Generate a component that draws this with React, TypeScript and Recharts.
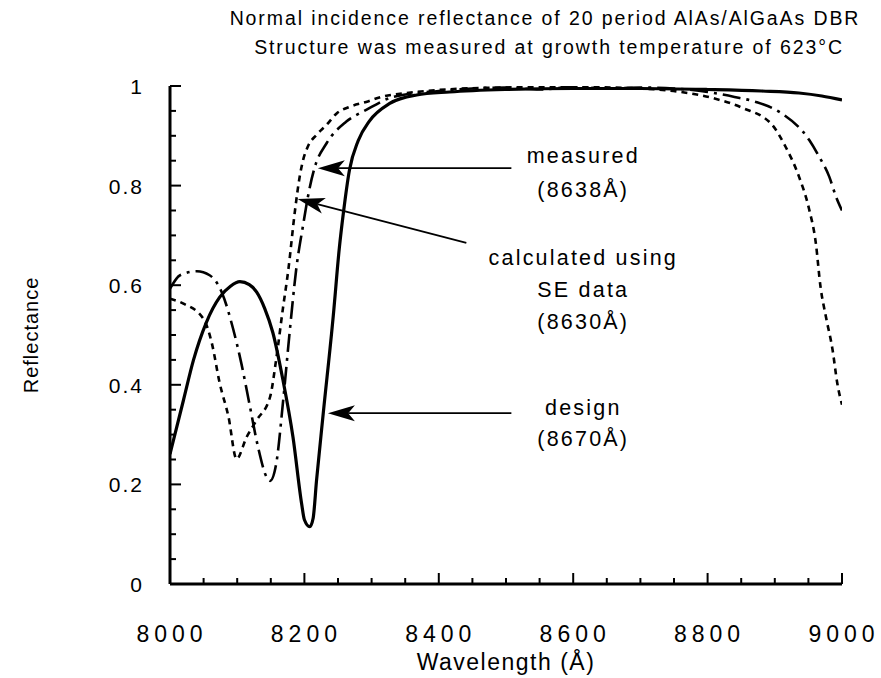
import React from 'react';
import {
  LineChart,
  Line,
  XAxis,
  YAxis,
  ReferenceLine,
  ReferenceDot,
} from 'recharts';

// design curve (solid)
const designWl = [8000, 8020, 8035, 8054, 8074, 8090, 8104, 8118, 8129, 8141, 8153, 8168, 8183, 8196, 8200, 8208, 8213, 8218, 8228, 8243, 8252, 8258, 8267, 8280, 8297, 8327, 8367, 8416, 8500, 8600, 8700, 8800, 8880, 8936, 8970, 9000];
const designR = [0.261, 0.369, 0.45, 0.525, 0.576, 0.598, 0.607, 0.601, 0.586, 0.553, 0.505, 0.41, 0.295, 0.16, 0.129, 0.115, 0.132, 0.207, 0.342, 0.539, 0.675, 0.745, 0.831, 0.89, 0.93, 0.965, 0.982, 0.988, 0.993, 0.995, 0.995, 0.993, 0.99, 0.986, 0.98, 0.972];

// measured curve (dash-dot)
const measuredWl = [8000, 8015, 8040, 8059, 8077, 8094, 8106, 8119, 8131, 8144, 8149, 8158, 8168, 8178, 8188, 8198, 8207, 8215, 8233, 8262, 8292, 8332, 8400, 8450, 8500, 8550, 8600, 8650, 8700, 8750, 8800, 8840, 8872, 8909, 8951, 8966, 8981, 8991, 9000];
const measuredR = [0.593, 0.62, 0.628, 0.62, 0.586, 0.512, 0.444, 0.356, 0.275, 0.214, 0.207, 0.241, 0.363, 0.505, 0.634, 0.72, 0.79, 0.835, 0.885, 0.928, 0.952, 0.978, 0.99, 0.995, 0.997, 0.993, 0.998, 0.995, 0.997, 0.995, 0.988, 0.978, 0.968, 0.946, 0.892, 0.858, 0.818, 0.778, 0.75];

// calculated curve using SE data (dotted)
const calcWl = [8000, 8020, 8050, 8062, 8074, 8087, 8099, 8114, 8129, 8149, 8158, 8168, 8176, 8186, 8193, 8198, 8205, 8218, 8233, 8248, 8267, 8292, 8317, 8347, 8400, 8500, 8600, 8700, 8760, 8807, 8852, 8896, 8916, 8936, 8951, 8961, 8968, 8976, 8986, 8993, 9000];
const calcR = [0.573, 0.563, 0.532, 0.485, 0.403, 0.336, 0.251, 0.295, 0.329, 0.376, 0.451, 0.553, 0.63, 0.75, 0.818, 0.851, 0.878, 0.902, 0.922, 0.945, 0.958, 0.968, 0.979, 0.985, 0.992, 0.997, 0.998, 0.995, 0.988, 0.976, 0.956, 0.922, 0.878, 0.818, 0.753, 0.685, 0.597, 0.537, 0.47, 0.403, 0.36];

const xTicks = [8000, 8050, 8100, 8150, 8200, 8250, 8300, 8350, 8400, 8450, 8500, 8550, 8600, 8650, 8700, 8750, 8800, 8850, 8900, 8950, 9000];
const yTicks = [0, 0.05, 0.1, 0.15, 0.2, 0.25, 0.3, 0.35, 0.4, 0.45, 0.5, 0.55, 0.6, 0.65, 0.7, 0.75, 0.8, 0.85, 0.9, 0.95, 1];

// arrows: tip first, then tail
const arrowTips = [[8220, 0.835], [8190, 0.773], [8235, 0.343]];
const arrowTails = [[8508, 0.835], [8441, 0.685], [8508, 0.343]];

const noteLines = ['measured', '(8638Å)', 'calculated  using', 'SE data', '(8630Å)', 'design', '(8670Å)'];
const noteY = [0.845, 0.777, 0.641, 0.576, 0.512, 0.339, 0.277];
const noteX = 8615;

const zip = (xs: number[], ys: number[]) => xs.map((x, i) => ({ x, y: ys[i] }));
const designData = zip(designWl, designR);
const measuredData = zip(measuredWl, measuredR);
const calcData = zip(calcWl, calcR);

const FONT = '"Liberation Sans", Arial, Helvetica, sans-serif';

const isMajorX = (v: number) => v % 200 === 0;
const isMajorY = (v: number) => Math.round(v * 100) % 20 === 0;

const BottomTick = (props: any) => {
  const { x, y, payload } = props;
  const v = payload.value;
  const major = isMajorX(v);
  return (
    <g>
      <line x1={x} y1={y} x2={x} y2={y - (major ? 11 : 6)} stroke="#000" strokeWidth={2} />
      {major && (
        <text x={x + 2} y={y + 58} textAnchor="middle" fontFamily={FONT} fontSize={23} letterSpacing={5} fill="#000">
          {v}
        </text>
      )}
    </g>
  );
};

const TopTick = (props: any) => {
  const { x, y, payload } = props;
  const major = isMajorX(payload.value);
  return <line x1={x} y1={y} x2={x} y2={y + (major ? 11 : 6)} stroke="#000" strokeWidth={2} />;
};

const LeftTick = (props: any) => {
  const { x, y, payload } = props;
  const v = payload.value;
  const major = isMajorY(v);
  const label = v === 1 ? '1' : v === 0 ? '0' : v.toFixed(1);
  return (
    <g>
      <line x1={x} y1={y} x2={x + (major ? 11 : 6)} y2={y} stroke="#000" strokeWidth={2} />
      {major && (
        <text x={x - 26} y={y + 8} textAnchor="end" fontFamily={FONT} fontSize={21} letterSpacing={2} fill="#000">
          {label}
        </text>
      )}
    </g>
  );
};

const RightTick = (props: any) => {
  const { x, y, payload } = props;
  const major = isMajorY(payload.value);
  return <line x1={x} y1={y} x2={x - (major ? 11 : 6)} y2={y} stroke="#000" strokeWidth={2} />;
};

const Arrow = (props: any) => {
  const { x1, y1, x2, y2 } = props;
  const ang = Math.atan2(y2 - y1, x2 - x1);
  const len = 27;
  const hw = 8;
  const cos = Math.cos(ang);
  const sin = Math.sin(ang);
  const bx = x1 + cos * len;
  const by = y1 + sin * len;
  const nx = x1 + cos * len * 0.75;
  const ny = y1 + sin * len * 0.75;
  const pts = [
    [x1, y1],
    [bx - sin * hw, by + cos * hw],
    [nx, ny],
    [bx + sin * hw, by - cos * hw],
  ]
    .map((p) => p.join(','))
    .join(' ');
  return (
    <g>
      <line x1={nx} y1={ny} x2={x2} y2={y2} stroke="#000" strokeWidth={1.8} />
      <polygon points={pts} fill="#000" />
    </g>
  );
};

const NoteText = (text: string) => (props: any) => (
  <text x={props.cx} y={props.cy} textAnchor="middle" fontFamily={FONT} fontSize={21.5} letterSpacing={2.2} fill="#000">
    {text}
  </text>
);

export default function App() {
  return (
    <div style={{ position: 'absolute', left: 0, top: 0, width: 881, height: 678, background: '#fff' }}>
      <svg width={881} height={80} style={{ position: 'absolute', left: 0, top: 0 }}>
        <text x={545} y={25} textAnchor="middle" fontFamily={FONT} fontSize={19.5} letterSpacing={1.9} fill="#000">
          Normal incidence reflectance of 20 period AlAs/AlGaAs DBR
        </text>
        <text x={549} y={54} textAnchor="middle" fontFamily={FONT} fontSize={19.5} letterSpacing={1.9} fill="#000">
          Structure was measured at growth temperature of 623°C
        </text>
      </svg>
      <div style={{ position: 'absolute', left: 0, top: 0 }}>
        <LineChart width={881} height={678} margin={{ top: 86, right: 39, bottom: 34, left: 110 }}>
          <XAxis
            xAxisId="b"
            dataKey="x"
            type="number"
            domain={[8000, 9000]}
            allowDataOverflow
            ticks={xTicks}
            interval={0}
            tickSize={0}
            tickMargin={0}
            tickLine={false}
            tick={<BottomTick />}
            height={60}
            axisLine={{ stroke: '#000', strokeWidth: 3 }}
            label={{
              content: ({ viewBox }: any) => (
                <text
                  x={viewBox.x + viewBox.width / 2}
                  y={viewBox.y + 86}
                  textAnchor="middle"
                  fontFamily={FONT}
                  fontSize={23}
                  letterSpacing={1.5}
                  fill="#000"
                >
                  Wavelength (Å)
                </text>
              ),
            }}
          />
          <XAxis
            xAxisId="t"
            orientation="top"
            dataKey="x"
            type="number"
            domain={[8000, 9000]}
            allowDataOverflow
            ticks={xTicks}
            interval={0}
            tickSize={0}
            tickMargin={0}
            tickLine={false}
            tick={<TopTick />}
            height={0}
            axisLine={{ stroke: '#000', strokeWidth: 3 }}
          />
          <YAxis
            yAxisId="l"
            type="number"
            domain={[0, 1]}
            allowDataOverflow
            ticks={yTicks}
            interval={0}
            tickSize={0}
            tickMargin={0}
            tickLine={false}
            tick={<LeftTick />}
            width={60}
            axisLine={{ stroke: '#000', strokeWidth: 3 }}
            label={{
              content: ({ viewBox }: any) => {
                const cx = 31;
                const cy = viewBox.y + viewBox.height / 2;
                return (
                  <text
                    x={cx}
                    y={cy}
                    transform={`rotate(-90, ${cx}, ${cy})`}
                    textAnchor="middle"
                    dominantBaseline="central"
                    fontFamily={FONT}
                    fontSize={20}
                    letterSpacing={1}
                    fill="#000"
                  >
                    Reflectance
                  </text>
                );
              },
            }}
          />
          <YAxis
            yAxisId="r"
            orientation="right"
            type="number"
            domain={[0, 1]}
            allowDataOverflow
            ticks={yTicks}
            interval={0}
            tickSize={0}
            tickMargin={0}
            tickLine={false}
            tick={<RightTick />}
            width={0}
            axisLine={{ stroke: '#000', strokeWidth: 3 }}
          />
          <Line
            xAxisId="b"
            yAxisId="l"
            data={calcData}
            dataKey="y"
            type="monotone"
            stroke="#000"
            strokeWidth={2.6}
            strokeDasharray="6 5"
            dot={false}
            isAnimationActive={false}
          />
          <Line
            xAxisId="b"
            yAxisId="l"
            data={measuredData}
            dataKey="y"
            type="monotone"
            stroke="#000"
            strokeWidth={2.6}
            strokeDasharray="18 6 3 6"
            dot={false}
            isAnimationActive={false}
          />
          <Line
            xAxisId="b"
            yAxisId="l"
            data={designData}
            dataKey="y"
            type="monotone"
            stroke="#000"
            strokeWidth={3.2}
            dot={false}
            isAnimationActive={false}
          />
          {arrowTips.map((tip, i) => (
            <ReferenceLine
              key={'a' + i}
              xAxisId="b"
              yAxisId="l"
              segment={[
                { x: tip[0], y: tip[1] },
                { x: arrowTails[i][0], y: arrowTails[i][1] },
              ]}
              ifOverflow="visible"
              shape={<Arrow />}
            />
          ))}
          {noteLines.map((t, i) => (
            <ReferenceDot
              key={'n' + i}
              xAxisId="b"
              yAxisId="l"
              x={noteX}
              y={noteY[i]}
              r={0}
              ifOverflow="visible"
              shape={NoteText(t)}
            />
          ))}
        </LineChart>
      </div>
    </div>
  );
}
